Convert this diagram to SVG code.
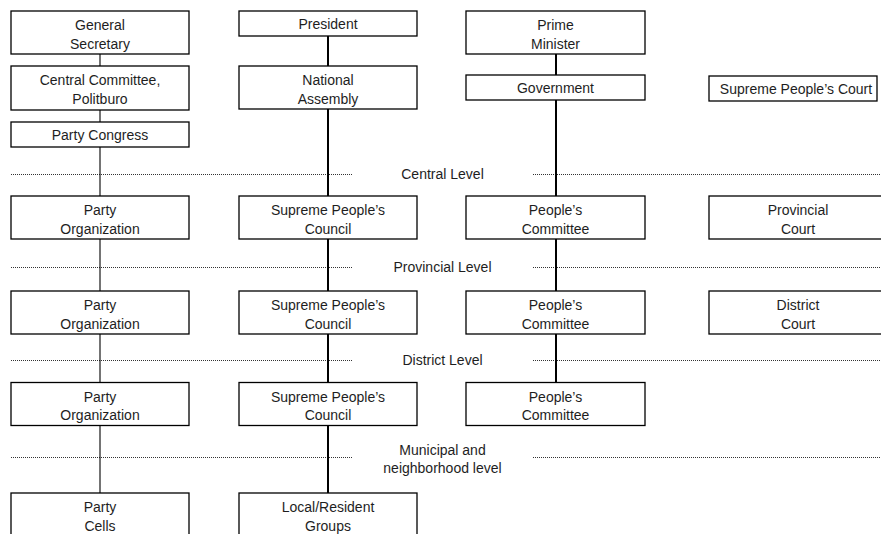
<svg xmlns="http://www.w3.org/2000/svg" width="881" height="534" viewBox="0 0 881 534">
  <style>
    .box { fill: #ffffff; stroke: #000000; stroke-width: 1.3; }
    .lbl { font-family: "Liberation Sans", Arial, sans-serif; font-size: 14px; fill: #1e1e1e; text-anchor: middle; }
    .sep { stroke: #333333; stroke-width: 1; stroke-dasharray: 1 1; fill: none; }
    .thin { stroke: #000000; stroke-width: 1.1; fill: none; }
    .thick { stroke: #000000; stroke-width: 2; fill: none; }
  </style>

  <!-- level separators -->
  <g id="levels">
    <line class="sep" x1="11" y1="174.5" x2="353" y2="174.5"/>
    <line class="sep" x1="533" y1="174.5" x2="881" y2="174.5"/>
    <text class="lbl" x="442.5" y="178.5">Central Level</text>

    <line class="sep" x1="11" y1="267.5" x2="353" y2="267.5"/>
    <line class="sep" x1="533" y1="267.5" x2="881" y2="267.5"/>
    <text class="lbl" x="442.5" y="272">Provincial Level</text>

    <line class="sep" x1="11" y1="360.5" x2="353" y2="360.5"/>
    <line class="sep" x1="533" y1="360.5" x2="881" y2="360.5"/>
    <text class="lbl" x="442.5" y="365">District Level</text>

    <line class="sep" x1="11" y1="457.5" x2="353" y2="457.5"/>
    <line class="sep" x1="533" y1="457.5" x2="881" y2="457.5"/>
    <text class="lbl" x="442.5" y="454.5">Municipal and</text>
    <text class="lbl" x="442.5" y="473">neighborhood level</text>
  </g>

  <!-- connectors -->
  <g id="connectors">
    <!-- party column -->
    <line class="thin" x1="100" y1="54" x2="100" y2="66"/>
    <line class="thin" x1="100" y1="110" x2="100" y2="122"/>
    <line class="thin" x1="100" y1="147" x2="100" y2="196"/>
    <line class="thin" x1="100" y1="239" x2="100" y2="291"/>
    <line class="thin" x1="100" y1="334" x2="100" y2="382"/>
    <line class="thin" x1="100" y1="426" x2="100" y2="493"/>
    <!-- state column -->
    <line class="thick" x1="328" y1="36" x2="328" y2="66"/>
    <line class="thick" x1="328" y1="109" x2="328" y2="196"/>
    <line class="thick" x1="328" y1="239" x2="328" y2="291"/>
    <line class="thick" x1="328" y1="334" x2="328" y2="382"/>
    <line class="thick" x1="328" y1="426" x2="328" y2="493"/>
    <!-- government column -->
    <line class="thick" x1="556" y1="54" x2="556" y2="75"/>
    <line class="thick" x1="556" y1="100" x2="556" y2="196"/>
    <line class="thick" x1="556" y1="239" x2="556" y2="291"/>
    <line class="thick" x1="556" y1="334" x2="556" y2="382"/>
  </g>

  <!-- party column -->
  <g id="general-secretary">
    <rect class="box" x="11" y="11" width="178" height="43"/>
    <text class="lbl" x="100" y="30">General</text>
    <text class="lbl" x="100" y="48.5">Secretary</text>
  </g>
  <g id="central-committee">
    <rect class="box" x="11" y="66" width="178" height="44"/>
    <text class="lbl" x="100" y="85">Central Committee,</text>
    <text class="lbl" x="100" y="103.5">Politburo</text>
  </g>
  <g id="party-congress">
    <rect class="box" x="11" y="122" width="178" height="25"/>
    <text class="lbl" x="100" y="139.5">Party Congress</text>
  </g>
  <g id="party-org-province">
    <rect class="box" x="11" y="196" width="178" height="43"/>
    <text class="lbl" x="100" y="215">Party</text>
    <text class="lbl" x="100" y="233.5">Organization</text>
  </g>
  <g id="party-org-district">
    <rect class="box" x="11" y="291" width="178" height="43"/>
    <text class="lbl" x="100" y="310">Party</text>
    <text class="lbl" x="100" y="328.5">Organization</text>
  </g>
  <g id="party-org-municipal">
    <rect class="box" x="11" y="382.5" width="178" height="43"/>
    <text class="lbl" x="100" y="401.5">Party</text>
    <text class="lbl" x="100" y="420">Organization</text>
  </g>
  <g id="party-cells">
    <rect class="box" x="11" y="493" width="178" height="50"/>
    <text class="lbl" x="100" y="512">Party</text>
    <text class="lbl" x="100" y="530.5">Cells</text>
  </g>

  <!-- state column -->
  <g id="president">
    <rect class="box" x="239" y="11" width="178" height="25"/>
    <text class="lbl" x="328" y="29">President</text>
  </g>
  <g id="national-assembly">
    <rect class="box" x="239" y="66" width="178" height="43"/>
    <text class="lbl" x="328" y="85">National</text>
    <text class="lbl" x="328" y="103.5">Assembly</text>
  </g>
  <g id="council-province">
    <rect class="box" x="239" y="196" width="178" height="43"/>
    <text class="lbl" x="328" y="215">Supreme People’s</text>
    <text class="lbl" x="328" y="233.5">Council</text>
  </g>
  <g id="council-district">
    <rect class="box" x="239" y="291" width="178" height="43"/>
    <text class="lbl" x="328" y="310">Supreme People’s</text>
    <text class="lbl" x="328" y="328.5">Council</text>
  </g>
  <g id="council-municipal">
    <rect class="box" x="239" y="382.5" width="178" height="43"/>
    <text class="lbl" x="328" y="401.5">Supreme People’s</text>
    <text class="lbl" x="328" y="420">Council</text>
  </g>
  <g id="resident-groups">
    <rect class="box" x="239" y="493" width="178" height="50"/>
    <text class="lbl" x="328" y="512">Local/Resident</text>
    <text class="lbl" x="328" y="530.5">Groups</text>
  </g>

  <!-- government column -->
  <g id="prime-minister">
    <rect class="box" x="466" y="11" width="179" height="43"/>
    <text class="lbl" x="555.5" y="30">Prime</text>
    <text class="lbl" x="555.5" y="48.5">Minister</text>
  </g>
  <g id="government">
    <rect class="box" x="466" y="75" width="179" height="25"/>
    <text class="lbl" x="555.5" y="93">Government</text>
  </g>
  <g id="committee-province">
    <rect class="box" x="466" y="196" width="179" height="43"/>
    <text class="lbl" x="555.5" y="215">People’s</text>
    <text class="lbl" x="555.5" y="233.5">Committee</text>
  </g>
  <g id="committee-district">
    <rect class="box" x="466" y="291" width="179" height="43"/>
    <text class="lbl" x="555.5" y="310">People’s</text>
    <text class="lbl" x="555.5" y="328.5">Committee</text>
  </g>
  <g id="committee-municipal">
    <rect class="box" x="466" y="382.5" width="179" height="43"/>
    <text class="lbl" x="555.5" y="401.5">People’s</text>
    <text class="lbl" x="555.5" y="420">Committee</text>
  </g>

  <!-- court column -->
  <g id="supreme-court">
    <rect class="box" x="709" y="76" width="168" height="25"/>
    <text class="lbl" x="796" y="94">Supreme People’s Court</text>
  </g>
  <g id="provincial-court">
    <rect class="box" x="709" y="196" width="178" height="43"/>
    <text class="lbl" x="798" y="215">Provincial</text>
    <text class="lbl" x="798" y="233.5">Court</text>
  </g>
  <g id="district-court">
    <rect class="box" x="709" y="291" width="178" height="43"/>
    <text class="lbl" x="798" y="310">District</text>
    <text class="lbl" x="798" y="328.5">Court</text>
  </g>
</svg>
